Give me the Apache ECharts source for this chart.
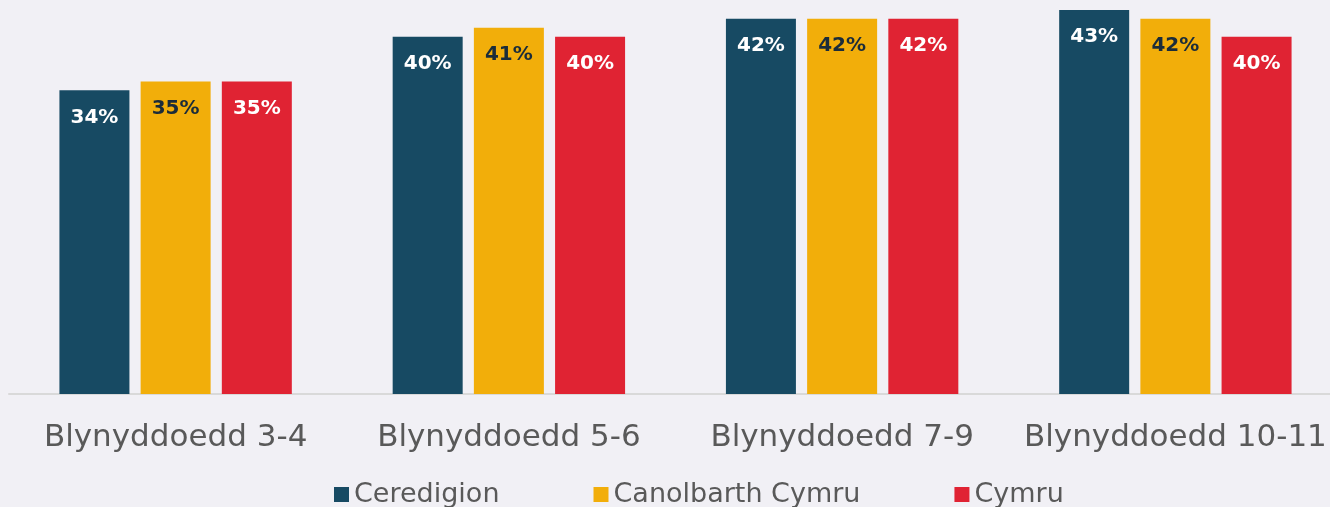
<!doctype html>
<html>
  <head>
    <meta charset="utf-8">
    <title>Blynyddoedd</title>
    <script src="https://cdn.jsdelivr.net/npm/echarts@6/dist/echarts.min.js"></script>
    <style>
      html, body { margin: 0; padding: 0; background: #f1f0f5; overflow: hidden; }
    </style>
  </head>
  <body>
    <!-- the plot runs a little past the right edge in the original, so the chart is wider than the window -->
    <div id="main" style="width:1342px;height:507px;"></div>
  </body>
  <script>
   var categories = ['Blynyddoedd 3-4', 'Blynyddoedd 5-6', 'Blynyddoedd 7-9', 'Blynyddoedd 10-11'];
   var ceredigion = [34, 40, 42, 43];
   var canolbarth = [35, 41, 42, 42];
   var cymru = [35, 40, 42, 40];

   var myChart = echarts.init(document.getElementById('main'));

   function label(color) {
     return {
       show: true,
       position: 'insideTop',
       distance: 17,
       formatter: '{c}%',
       color: color,
       fontFamily: 'DejaVu Sans',
       fontWeight: 'bold',
       fontSize: 20
     };
   }

   var option = {
     backgroundColor: '#f1f0f5',
     animation: false,
     legend: {
       top: 476,
       left: 329,
       itemWidth: 15,
       itemHeight: 15,
       itemGap: 94,
       icon: 'rect',
       textStyle: { fontFamily: 'DejaVu Sans', fontSize: 27, color: '#595959' },
       data: ['Ceredigion', 'Canolbarth Cymru', 'Cymru']
     },
     grid: { left: 9, right: 0, top: 1, bottom: 113, containLabel: false },
     xAxis: {
       type: 'category',
       data: categories,
       axisLine: { lineStyle: { color: '#d9d9d9', width: 2 } },
       axisTick: { show: false },
       axisLabel: { interval: 0, fontFamily: 'DejaVu Sans', fontSize: 31, color: '#595959', margin: 28 }
     },
     yAxis: {
       type: 'value',
       min: 0,
       max: 44,
       show: false,
       splitLine: { show: false }
     },
     series: [
       {
         name: 'Ceredigion', type: 'bar', data: ceredigion,
         barWidth: 70, barGap: '16%',
         itemStyle: { color: '#174a63' },
         label: label('#ffffff')
       },
       {
         name: 'Canolbarth Cymru', type: 'bar', data: canolbarth,
         barWidth: 70, barGap: '16%',
         itemStyle: { color: '#f2ae0a' },
         label: label('#1b2c3a')
       },
       {
         name: 'Cymru', type: 'bar', data: cymru,
         barWidth: 70, barGap: '16%',
         itemStyle: { color: '#e02333' },
         label: label('#ffffff')
       }
     ]
   };
   myChart.setOption(option);
  </script>
</html>
